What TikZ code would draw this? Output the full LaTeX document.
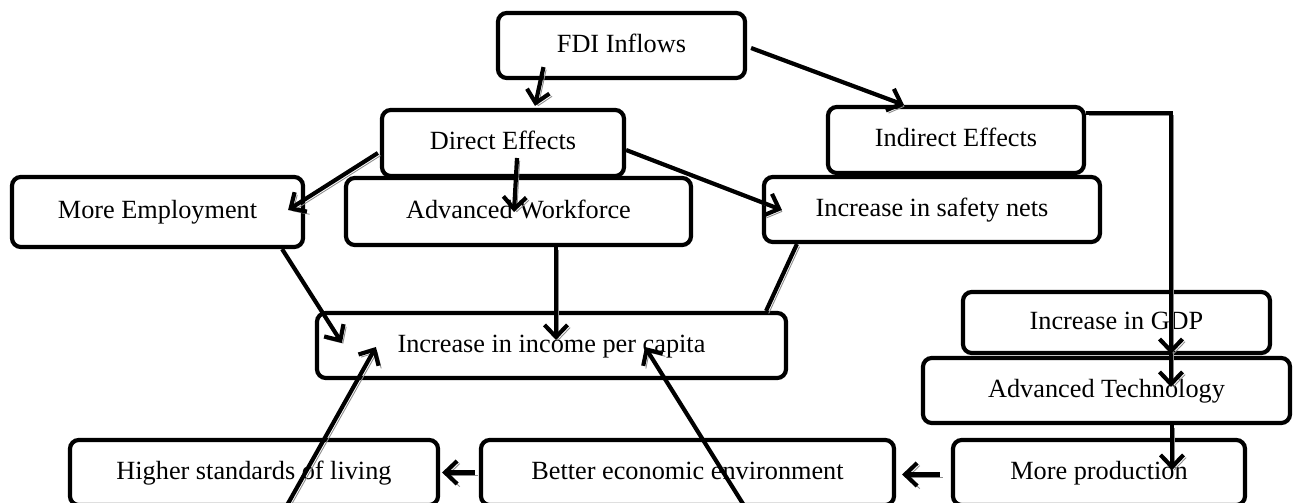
\documentclass[tikz,border=0pt]{standalone}
\usepackage{fontspec}
\setmainfont{Liberation Serif}
\usepackage{tikz}
\usetikzlibrary{arrows.meta}
\usetikzlibrary{calc}
\newcommand{\px}{0.01605cm}

\begin{document}
\begin{tikzpicture}[x=\px,y=-\px,
	box/.style={draw,line width=1.9pt,rounded corners=4pt,fill=white,inner sep=0pt,text height=8.5pt,text depth=2.5pt,font=\fontsize{12}{14}\selectfont},
	shade/.style={preaction={draw=black!45,transform canvas={shift={(1.2pt,-1.2pt)}}}},
	arr/.style={line width=1.9pt,-{Straight Barb[length=5.5pt,width=10.5pt]},shade},
	ln/.style={line width=1.9pt,shade}]
			\useasboundingbox (0,0) rectangle (1298,503);
			\node [box,minimum width=247*\px,minimum height=65*\px] (fdi) at (621.5,45.5) {FDI Inflows};
			\node [box,minimum width=242*\px,minimum height=66*\px] (dir) at (503,143) {Direct Effects};
			\node [box,minimum width=256*\px,minimum height=66*\px] (ind) at (956,140) {Indirect Effects};
			\node [box,minimum width=291*\px,minimum height=70*\px] (emp) at (157.5,212) {More Employment};
			\node [box,minimum width=345*\px,minimum height=67*\px] (awf) at (518.5,211.5) {Advanced Workforce};
			\node [box,minimum width=336*\px,minimum height=65*\px] (safe) at (932,209.5) {Increase in safety nets};
			\node [box,minimum width=469*\px,minimum height=65*\px] (inc) at (551.5,345.5) {Increase in income per capita};
			\node [box,minimum width=307*\px,minimum height=61*\px] (gdp) at (1116.5,322.5) {Increase in GDP};
			\node [box,minimum width=367*\px,minimum height=65*\px] (tech) at (1106.5,390.5) {Advanced Technology};
			\node [box,minimum width=292*\px,minimum height=65*\px] (prod) at (1099,472.5) {More production};
			\node [box,minimum width=368*\px,minimum height=65*\px] (hsl) at (254,472.5) {Higher standards of living};
			\node [box,minimum width=413*\px,minimum height=65*\px] (bee) at (687.5,472.5) {Better economic environment};
			\draw [arr] ($(fdi.south)+(-78,-13)$) -- ($(dir.north)+(32,-2)$);
			\draw [arr] ($(fdi.east)+(4,2.5)$) -- ($(ind.north)+(-52,0)$);
			\draw [arr] ($(dir.west)+(-2,10)$) -- ($(emp.east)+(-17,-2)$);
			\draw [arr] ($(dir.center)+(14,15)$) -- ($(awf.center)+(-4.5,0.5)$);
			\draw [arr] ($(dir.east)+(0,7)$) -- ($(safe.west)+(20,0.5)$);
			\draw [arr] ($(emp.south east)+(-23,0)$) -- ($(inc.west)+(27,-2.5)$);
			\draw [arr] ($(awf.south)+(37.5,0)$) -- ($(inc.center)+(4.5,-5.5)$);
			\draw [ln] ($(safe.south west)+(35,0)$) -- ($(inc.north east)+(-22,0)$);
			\draw [arr] ($(hsl.south)+(32,0)$) -- ($(inc.west)+(61,1.5)$);
			\draw [arr] ($(bee.south)+(57.5,0)$) -- ($(inc.center)+(93.5,1.5)$);
			\draw [arr] ($(bee.west)+(-4,0)$) -- ($(hsl.east)+(2,0)$);
			\draw [arr] ($(prod.west)+(-11,2)$) -- ($(bee.east)+(6,2)$);
			\draw [arr] ($(ind.north east)+(0,8)$) -| ($(tech.center)+(64.5,-3.5)$);
			\draw [arr] ($(gdp.north)+(54.5,0)$) -- ($(gdp.south)+(54.5,-1)$);
			\draw [arr] ($(tech.south)+(65.5,0)$) -- ($(prod.center)+(73,-2.5)$);
\end{tikzpicture}
\end{document}
